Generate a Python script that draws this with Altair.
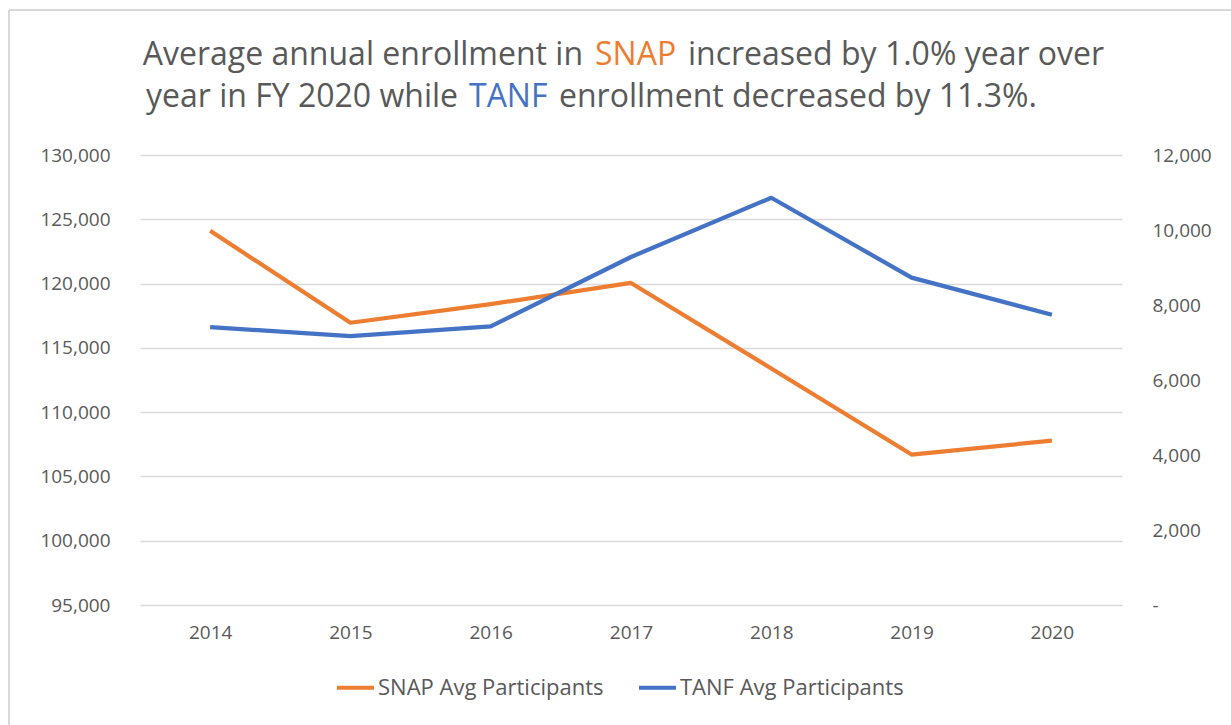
import altair as alt
import pandas as pd

years = ["2014", "2015", "2016", "2017", "2018", "2019", "2020"]
snap = [124100, 116950, 118400, 120050, 113400, 106700, 107780]
tanf = [7410, 7170, 7430, 9280, 10860, 8730, 7740]
series_names = ["SNAP Avg Participants", "TANF Avg Participants"]
colors = ["#ED7D31", "#4472C4"]
left_ticks = [95000, 100000, 105000, 110000, 115000, 120000, 125000, 130000]
right_ticks = [0, 2000, 4000, 6000, 8000, 10000, 12000]

FONT = "Open Sans"
GREY = "#595959"

df_snap = pd.DataFrame({"year": years, "value": snap, "series": series_names[0]})
df_tanf = pd.DataFrame({"year": years, "value": tanf, "series": series_names[1]})

color = alt.Color(
    "series:N",
    scale=alt.Scale(domain=series_names, range=colors),
    legend=alt.Legend(
        title=None,
        orient="none",
        legendX=195,
        legendY=512,
        direction="horizontal",
        symbolType="stroke",
        symbolSize=1369,
        symbolStrokeWidth=4,
        labelFont=FONT,
        labelFontSize=22,
        labelColor=GREY,
        labelOffset=2,
        labelLimit=0,
        columnPadding=27,
    ),
)

xenc = alt.X(
    "year:O",
    title=None,
    scale=alt.Scale(padding=0.5),
    axis=alt.Axis(
        labelAngle=0,
        domain=False,
        ticks=False,
        labelPadding=18,
        labelFont=FONT,
        labelFontSize=19,
        labelColor=GREY,
        grid=False,
    ),
)

snap_line = alt.Chart(df_snap).mark_line(strokeWidth=4.2, strokeJoin="round").encode(
    x=xenc,
    y=alt.Y(
        "value:Q",
        title=None,
        scale=alt.Scale(domain=[95000, 130000], nice=False, zero=False),
        axis=alt.Axis(
            values=left_ticks,
            format=",.0f",
            domain=False,
            ticks=False,
            grid=True,
            gridColor="#d9d9d9",
            gridWidth=1.5,
            labelPadding=30,
            labelFont=FONT,
            labelFontSize=19,
            labelColor=GREY,
            orient="left",
        ),
    ),
    color=color,
)

tanf_line = alt.Chart(df_tanf).mark_line(strokeWidth=4.2, strokeJoin="round").encode(
    x=xenc,
    y=alt.Y(
        "value:Q",
        title=None,
        scale=alt.Scale(domain=[0, 12000], nice=False),
        axis=alt.Axis(
            values=right_ticks,
            labelExpr="datum.value == 0 ? '-' : format(datum.value, ',.0f')",
            domain=False,
            ticks=False,
            grid=False,
            labelAlign="left",
            labelPadding=30,
            labelFont=FONT,
            labelFontSize=19,
            labelColor=GREY,
            orient="right",
        ),
    ),
    color=color,
)

def seg(text, x, y, col, align):
    return alt.Chart(pd.DataFrame({"t": [text]})).mark_text(
        font=FONT, fontSize=32, color=col, align=align, baseline="alphabetic"
    ).encode(text="t:N", x=alt.value(x), y=alt.value(y))

title_layers = [
    seg("Average annual enrollment in", 443, -90, GREY, "right"),
    seg("SNAP", 455, -90, colors[0], "left"),
    seg("increased by 1.0% year over", 548, -90, GREY, "left"),
    seg("year in FY 2020 while", 318, -48, GREY, "right"),
    seg("TANF", 329, -48, colors[1], "left"),
    seg("enrollment decreased by 11.3%.", 419, -48, GREY, "left"),
]

one = pd.DataFrame({"k": [0]})
border_left = alt.Chart(one).mark_rule(color="#d9d9d9", strokeWidth=2).encode(
    x=alt.value(-131), y=alt.value(-145), y2=alt.value(570)
)
border_top = alt.Chart(one).mark_rule(color="#d9d9d9", strokeWidth=2).encode(
    x=alt.value(-131), x2=alt.value(1091), y=alt.value(-145)
)

chart = (
    alt.layer(snap_line, tanf_line, border_left, border_top, *title_layers)
    .resolve_scale(y="independent")
    .properties(
        width=982,
        height=450,
        autosize=alt.AutoSizeParams(type="none"),
        padding={"left": 140, "top": 155, "right": 109, "bottom": 120},
        background="white",
    )
    .configure_view(stroke=None)
)

chart.save("out.html", embed_options={"renderer": "svg", "actions": False})
